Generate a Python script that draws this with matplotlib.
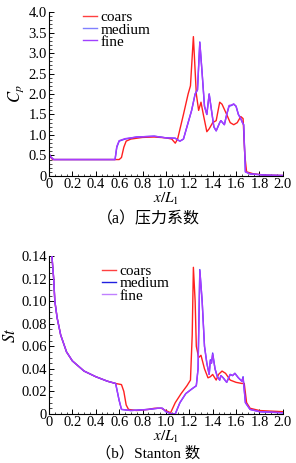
import numpy as np
import matplotlib
matplotlib.use("Agg")
import matplotlib.pyplot as plt
from matplotlib.ticker import MultipleLocator

plt.rcParams['font.family'] = ['Liberation Serif', 'Noto Sans CJK SC']
plt.rcParams['mathtext.fontset'] = 'stix'

# pressure coefficient, coarse grid
cp_coars_x = [0.0, 0.01, 0.03, 0.06, 0.3, 0.6, 0.62, 0.64, 0.66, 0.7, 0.8, 0.9, 1.0, 1.05,
              1.08, 1.1, 1.15, 1.19, 1.21, 1.235, 1.26, 1.28, 1.3, 1.32, 1.35, 1.37, 1.4,
              1.43, 1.46, 1.48, 1.52, 1.55, 1.58, 1.61, 1.64, 1.66, 1.675, 1.69, 1.75,
              1.85, 2.0]
cp_coars_y = [0.55, 0.48, 0.4, 0.4, 0.4, 0.4, 0.45, 0.7, 0.85, 0.9, 0.94, 0.95, 0.93, 0.9,
              0.8, 0.9, 1.5, 2.0, 2.2, 3.4, 2.0, 1.6, 1.8, 1.5, 1.08, 1.15, 1.3,
              1.35, 1.8, 1.75, 1.5, 1.3, 1.25, 1.3, 1.45, 1.4, 0.5, 0.1, 0.05,
              0.02, 0.01]

# pressure coefficient, medium grid
cp_medium_x = [0.0, 0.01, 0.04, 0.3, 0.565, 0.58, 0.6, 0.65, 0.75, 0.9, 1.0, 1.08, 1.1,
               1.12, 1.15, 1.18, 1.22, 1.25, 1.27, 1.29, 1.31, 1.33, 1.35, 1.37, 1.39,
               1.41, 1.43, 1.46, 1.47, 1.5, 1.52, 1.54, 1.56, 1.58, 1.6, 1.62, 1.64,
               1.655, 1.665, 1.68, 1.72, 1.85, 2.0]
cp_medium_y = [0.55, 0.48, 0.4, 0.4, 0.4, 0.7, 0.85, 0.9, 0.95, 0.97, 0.93, 0.92, 0.88,
               0.85, 0.9, 1.2, 1.6, 2.0, 2.1, 3.27, 2.5, 1.7, 1.5, 2.0, 1.6,
               1.2, 1.1, 1.3, 1.35, 1.25, 1.5, 1.7, 1.72, 1.75, 1.7, 1.5, 1.4,
               1.3, 1.25, 0.1, 0.05, 0.02, 0.01]

# pressure coefficient, fine grid
cp_fine_x = [0.0, 0.01, 0.04, 0.3, 0.565, 0.58, 0.6, 0.65, 0.75, 0.9, 1.0, 1.08, 1.1,
             1.12, 1.15, 1.18, 1.22, 1.25, 1.27, 1.29, 1.31, 1.33, 1.35, 1.37, 1.39,
             1.41, 1.43, 1.46, 1.47, 1.5, 1.52, 1.54, 1.56, 1.58, 1.6, 1.62, 1.64,
             1.655, 1.665, 1.68, 1.72, 1.85, 2.0]
cp_fine_y = [0.56, 0.48, 0.4, 0.4, 0.4, 0.72, 0.86, 0.91, 0.95, 0.97, 0.93, 0.92, 0.88,
             0.85, 0.9, 1.2, 1.6, 2.0, 2.1, 3.25, 2.5, 1.7, 1.5, 2.0, 1.6,
             1.2, 1.1, 1.3, 1.35, 1.25, 1.5, 1.72, 1.73, 1.76, 1.7, 1.5, 1.4,
             1.3, 1.25, 0.1, 0.05, 0.02, 0.01]

# Stanton number, coarse grid
st_coars_x = [0.025, 0.04, 0.05, 0.07, 0.1, 0.15, 0.2, 0.3, 0.4, 0.5, 0.57, 0.62, 0.64,
              0.66, 0.68, 0.75, 0.85, 0.9, 0.96, 1.0, 1.04, 1.08, 1.13, 1.18, 1.21,
              1.225, 1.235, 1.25, 1.26, 1.28, 1.3, 1.33, 1.36, 1.38, 1.4, 1.43, 1.45,
              1.48, 1.51, 1.55, 1.6, 1.65, 1.67, 1.69, 1.72, 1.8, 2.0]
st_coars_y = [0.14, 0.12, 0.1, 0.085, 0.07, 0.055, 0.047, 0.038, 0.033, 0.029, 0.027,
              0.026, 0.02, 0.008, 0.004, 0.003, 0.004, 0.005, 0.005, 0.003, 0.001,
              0.01, 0.018, 0.025, 0.03, 0.07, 0.13, 0.1, 0.06, 0.05, 0.052, 0.04,
              0.032, 0.033, 0.035, 0.03, 0.035, 0.038, 0.036, 0.03, 0.028, 0.027,
              0.027, 0.01, 0.005, 0.003, 0.002]

# Stanton number, medium grid
st_medium_x = [0.025, 0.04, 0.05, 0.07, 0.1, 0.15, 0.2, 0.3, 0.4, 0.5, 0.57, 0.6, 0.62,
               0.7, 0.85, 0.93, 0.97, 1.0, 1.05, 1.08, 1.12, 1.17, 1.22, 1.26, 1.275,
               1.29, 1.31, 1.33, 1.35, 1.37, 1.38, 1.39, 1.4, 1.42, 1.44, 1.46, 1.47,
               1.49, 1.52, 1.55, 1.57, 1.59, 1.62, 1.65, 1.66, 1.68, 1.72, 1.8, 2.0]
st_medium_y = [0.14, 0.12, 0.1, 0.085, 0.07, 0.055, 0.047, 0.038, 0.033, 0.029, 0.027,
               0.012, 0.004, 0.003, 0.004, 0.005, 0.005, 0.002, 0.0, 0.0, 0.01,
               0.018, 0.022, 0.025, 0.04, 0.128, 0.1, 0.06, 0.045, 0.035, 0.048,
               0.045, 0.054, 0.04, 0.033, 0.03, 0.034, 0.032, 0.028, 0.035, 0.034,
               0.036, 0.032, 0.029, 0.033, 0.01, 0.004, 0.002, 0.001]

# Stanton number, fine grid
st_fine_x = st_medium_x
st_fine_y = [0.14, 0.12, 0.1, 0.085, 0.07, 0.055, 0.047, 0.038, 0.033, 0.029, 0.027,
             0.012, 0.004, 0.003, 0.004, 0.005, 0.005, 0.002, 0.0, 0.0, 0.01,
             0.018, 0.022, 0.025, 0.04, 0.127, 0.1, 0.06, 0.045, 0.035, 0.047,
             0.045, 0.053, 0.04, 0.033, 0.03, 0.034, 0.032, 0.028, 0.035, 0.034,
             0.036, 0.032, 0.029, 0.032, 0.01, 0.004, 0.002, 0.001]

x_ticks = [0.0, 0.2, 0.4, 0.6, 0.8, 1.0, 1.2, 1.4, 1.6, 1.8, 2.0]
x_ticklabels = ['0', '0.2', '0.4', '0.6', '0.8', '1.0', '1.2', '1.4', '1.6', '1.8', '2.0']
cp_ticks = [0, 0.5, 1.0, 1.5, 2.0, 2.5, 3.0, 3.5, 4.0]
cp_ticklabels = ['0', '0.5', '1.0', '1.5', '2.0', '2.5', '3.0', '3.5', '4.0']
st_ticks = [0, 0.02, 0.04, 0.06, 0.08, 0.10, 0.12, 0.14]
st_ticklabels = ['0', '0.02', '0.04', '0.06', '0.08', '0.10', '0.12', '0.14']

red = '#ff2020'
blue = '#4a30ff'
purple = '#a83cff'


def style_axes(ax):
    ax.spines['top'].set_visible(False)
    ax.spines['right'].set_visible(False)
    ax.spines['left'].set_linewidth(0.8)
    ax.spines['bottom'].set_linewidth(0.8)
    ax.tick_params(which='both', direction='in', labelsize=10.5, pad=1.5)
    ax.tick_params(which='major', length=3.5, width=0.7)
    ax.tick_params(which='minor', length=1.8, width=0.5)
    ax.set_xlim(0, 2.0)
    ax.set_xticks(x_ticks, x_ticklabels)
    ax.xaxis.set_minor_locator(MultipleLocator(0.05))
    ax.set_xlabel(r'$x/L_1$', fontsize=11, labelpad=0)


fig = plt.figure(figsize=(2.96, 4.63), dpi=100)

# (a) pressure coefficient
ax1 = fig.add_axes([0.1655, 0.62, 0.79, 0.354])
ax1.plot(cp_coars_x, cp_coars_y, color=red, lw=1.0, label='coars')
ax1.plot(cp_medium_x, cp_medium_y, color=blue, lw=1.0, label='medium')
ax1.plot(cp_fine_x, cp_fine_y, color=purple, lw=1.0, label='fine')
style_axes(ax1)
ax1.set_ylim(0, 4.0)
ax1.set_yticks(cp_ticks, cp_ticklabels)
ax1.yaxis.set_minor_locator(MultipleLocator(0.1))
ax1.set_ylabel(r'$C_p$', fontsize=12, labelpad=2)
leg1 = ax1.legend(loc='upper left', bbox_to_anchor=(0.12, 1.045), frameon=False,
                  fontsize=11, handlelength=0.9, handletextpad=0.25, labelspacing=-0.1,
                  borderaxespad=0)
for line, c in zip(leg1.get_lines(), ['#ff4040', '#8080ff', '#a040ff']):
    line.set_color(c)
fig.text(0.5, 0.527, '（a）压力系数', ha='center', va='center', fontsize=11.5)

# (b) Stanton number
ax2 = fig.add_axes([0.1655, 0.106, 0.79, 0.341])
ax2.plot(st_coars_x, st_coars_y, color=red, lw=1.0, label='coars')
ax2.plot(st_medium_x, st_medium_y, color=blue, lw=1.0, label='medium')
ax2.plot(st_fine_x, st_fine_y, color=purple, lw=1.0, label='fine')
style_axes(ax2)
ax2.set_ylim(0, 0.14)
ax2.set_yticks(st_ticks, st_ticklabels)
ax2.yaxis.set_minor_locator(MultipleLocator(0.005))
ax2.set_ylabel(r'$St$', fontsize=12, labelpad=2)
leg2 = ax2.legend(loc='upper left', bbox_to_anchor=(0.2, 0.985), frameon=False,
                  fontsize=11, handlelength=0.9, handletextpad=0.25, labelspacing=-0.1,
                  borderaxespad=0)
for line, c in zip(leg2.get_lines(), ['#ff4040', '#2020e0', '#c080ff']):
    line.set_color(c)
fig.text(0.5, 0.021, '（b）Stanton 数', ha='center', va='center', fontsize=11)

fig.savefig('out.png', dpi=100)
